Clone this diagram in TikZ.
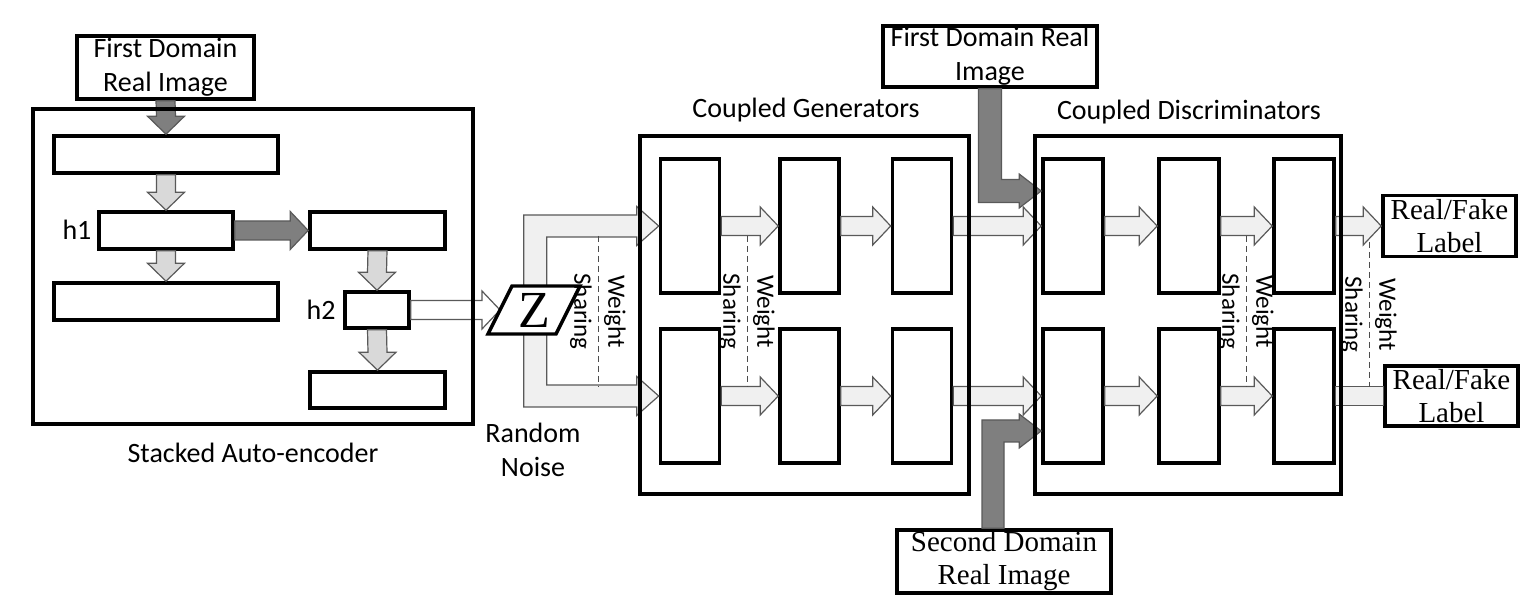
\documentclass[tikz,border=0pt]{standalone}
\usepackage{fontspec}
\setmainfont{Carlito}
\newfontfamily\timesfont{Liberation Serif}
\usetikzlibrary{calc}

\definecolor{arrowline}{HTML}{595959}
\definecolor{lightfill}{HTML}{F0F0F0}
\definecolor{midfill}{HTML}{D9D9D9}
\definecolor{darkfill}{HTML}{7F7F7F}

% fat block arrows, horizontal and vertical
\newcommand{\harrow}[3][light]{%
  \draw[#1] ($(#2)+(0,-9.5)$) -- ($(#3)+(-18,-9.5)$) -- ($(#3)+(-18,-19)$) -- (#3)
    -- ($(#3)+(-18,19)$) -- ($(#3)+(-18,9.5)$) -- ($(#2)+(0,9.5)$) -- cycle;}
\newcommand{\varrow}[3][light]{%
  \draw[#1] ($(#2)+(-9.5,0)$) -- ($(#3)+(-9.5,-18)$) -- ($(#3)+(-18.5,-18)$) -- (#3)
    -- ($(#3)+(18.5,-18)$) -- ($(#3)+(9.5,-18)$) -- ($(#2)+(9.5,0)$) -- cycle;}

\begin{document}
\begin{tikzpicture}[
        x=0.5pt, y=-0.5pt,
        every node/.style={font=\fontsize{14}{17}\selectfont},
        layer/.style={draw, line width=1.8pt, inner sep=0pt},
        frame/.style={draw, line width=1.7pt, inner sep=0pt},
        romantext/.style={font=\timesfont\fontsize{14.5}{16.5}\selectfont},
        light/.style={draw=arrowline, fill=lightfill, line width=0.6pt},
        mid/.style={draw=arrowline, fill=midfill, line width=0.6pt},
        dark/.style={draw=arrowline, fill=darkfill, line width=0.6pt},
        hollow/.style={draw=arrowline, fill=white, line width=0.6pt},
        share/.style={draw=black!70, dash pattern=on 3pt off 2pt, line width=0.5pt},
        sharelabel/.style={rotate=-90, align=center, font=\fontsize{12.5}{17}\selectfont},
        ]
        \useasboundingbox (0,0) rectangle (1538,614);

        % stacked auto-encoder
        \node (fd1) at (165.5,67.5) [layer, minimum width=88.5pt, minimum height=31.5pt, align=center] {First Domain\\Real Image};
        \node (b1) at (166,154.5) [layer, minimum width=112pt, minimum height=18.5pt] {};
        \node (h1) at (166,230.5) [layer, minimum width=67pt, minimum height=18.5pt] {};
        \node (b3) at (166,301.5) [layer, minimum width=112pt, minimum height=18.5pt] {};
        \node (r1) at (377.5,230.5) [layer, minimum width=67.5pt, minimum height=18.5pt] {};
        \node (h2) at (377,310) [layer, minimum width=32pt, minimum height=18pt] {};
        \node (r3) at (377.5,390) [layer, minimum width=67.5pt, minimum height=18pt] {};
        \node (h1lab) at (77,230) {h1};
        \node (h2lab) at (321,310) {h2};

        \varrow[dark]{fd1.south}{b1.north}
        \varrow[mid]{b1.south}{h1.north}
        \varrow[mid]{h1.south}{b3.north}
        \harrow[dark]{h1.east}{r1.west}
        \varrow[mid]{r1.south}{h2.north}
        \varrow[mid]{h2.south}{r3.north}
        \coordinate (zin) at (500,310);
        \harrow[hollow]{h2.east}{zin}

        % coupled generators
        \node (g11) at (690,226) [layer, minimum width=29.5pt, minimum height=67pt] {};
        \node (g12) at (809.5,226) [layer, minimum width=29.5pt, minimum height=67pt] {};
        \node (g13) at (922,226) [layer, minimum width=29.5pt, minimum height=67pt] {};
        \node (g21) at (690,396) [layer, minimum width=29.5pt, minimum height=67pt] {};
        \node (g22) at (809.5,396) [layer, minimum width=29.5pt, minimum height=67pt] {};
        \node (g23) at (922,396) [layer, minimum width=29.5pt, minimum height=67pt] {};

        % coupled discriminators
        \node (d11) at (1073,226) [layer, minimum width=30pt, minimum height=67pt] {};
        \node (d12) at (1189,226) [layer, minimum width=30pt, minimum height=67pt] {};
        \node (d13) at (1304,226) [layer, minimum width=30pt, minimum height=67pt] {};
        \node (d21) at (1073,396) [layer, minimum width=30pt, minimum height=67pt] {};
        \node (d22) at (1189,396) [layer, minimum width=30pt, minimum height=67pt] {};
        \node (d23) at (1304,396) [layer, minimum width=30pt, minimum height=67pt] {};

        \node (fd2) at (990,56.5) [layer, minimum width=107pt, minimum height=30.5pt, align=center] {First Domain Real\\Image};
        \node (sd) at (1004,561.5) [layer, romantext, minimum width=107pt, minimum height=31.5pt, align=center] {Second Domain\\Real Image};
        \node (rf1) at (1449.5,226) [layer, romantext, minimum width=66.5pt, minimum height=30.5pt, align=center] {Real/Fake\\Label};
        \node (rf2) at (1451.5,396) [layer, romantext, minimum width=66.5pt, minimum height=30pt, align=center] {Real/Fake\\Label};

        % noise fork into both generators
        \draw[light] ($(g11.west)+(-135,-11)$) -- ($(g11.west)+(-22,-11)$) -- ($(g11.west)+(-22,-19.5)$) -- (g11.west)
            -- ($(g11.west)+(-22,19.5)$) -- ($(g11.west)+(-22,11)$) -- ($(g11.west)+(-112,11)$)
            -- ($(g21.west)+(-112,-11)$) -- ($(g21.west)+(-22,-11)$) -- ($(g21.west)+(-22,-19.5)$) -- (g21.west)
            -- ($(g21.west)+(-22,19.5)$) -- ($(g21.west)+(-22,11)$) -- ($(g21.west)+(-135,11)$) -- cycle;
        \filldraw[fill=white, line width=1.7pt] (488,334) -- (512,286) -- (580,286) -- (556,334) -- cycle;
        \node (z) at (534,310) [font=\timesfont\fontsize{26}{26}\selectfont] {Z};
        \node (noise) at (533,450) [align=center] {Random\\Noise};

        \harrow{g11.east}{g12.west}
        \harrow{g12.east}{g13.west}
        \harrow{g13.east}{d11.west}
        \harrow{d11.east}{d12.west}
        \harrow{d12.east}{d13.west}
        \harrow{d13.east}{rf1.west}
        \harrow{g21.east}{g22.west}
        \harrow{g22.east}{g23.west}
        \harrow{g23.east}{d21.west}
        \harrow{d21.east}{d22.west}
        \harrow{d22.east}{d23.west}
        \draw[light] ($(d23.east)+(0,-9.5)$) rectangle ($(rf2.west)+(0,9.5)$);

        % real images into the discriminators
        \coordinate (din1) at ($(d11.west)+(0,-35)$);
        \coordinate (din2) at ($(d21.west)+(0,35)$);
        \coordinate (sdout) at ($(sd.north)+(-11,0)$);
        \draw[dark] ($(fd2.south)+(-11.5,0)$) -- ($(fd2.south |- din1)+(-11.5,11.5)$) -- ($(din1)+(-22,11.5)$)
            -- ($(din1)+(-22,17)$) -- (din1) -- ($(din1)+(-22,-17)$) -- ($(din1)+(-22,-11.5)$)
            -- ($(fd2.south |- din1)+(11.5,-11.5)$) -- ($(fd2.south)+(11.5,0)$) -- cycle;
        \draw[dark] ($(sdout)+(-11,0)$) -- ($(sdout |- din2)+(-11,-11)$) -- ($(din2)+(-22,-11)$)
            -- ($(din2)+(-22,-17)$) -- (din2) -- ($(din2)+(-22,17)$) -- ($(din2)+(-22,11)$)
            -- ($(sdout |- din2)+(11,11)$) -- ($(sdout)+(11,0)$) -- cycle;

        % weight sharing
        \draw[share] (598,236) -- (598,387) node[midway, sharelabel] (ws1) {Weight\\Sharing};
        \draw[share] (747,236) -- (747,387) node[midway, sharelabel] (ws2) {Weight\\Sharing};
        \draw[share] (1246,236) -- (1246,387) node[midway, sharelabel] (ws3) {Weight\\Sharing};
        \draw[share] (1369,242) -- (1369,387) node[midway, sharelabel] (ws4) {Weight\\Sharing};

        % outer frames
        \node (sae) at (253,266.5) [frame, minimum width=220pt, minimum height=157.5pt] {};
        \node (saelab) at (253,453) {Stacked Auto-encoder};
        \node (gen) at (804.5,315) [frame, minimum width=164.5pt, minimum height=179pt] {};
        \node (genlab) at (806,110) {Coupled Generators};
        \node (disc) at (1188,315) [frame, minimum width=153pt, minimum height=179pt] {};
        \node (disclab) at (1189,112) {Coupled Discriminators};
    \end{tikzpicture}
\end{document}
